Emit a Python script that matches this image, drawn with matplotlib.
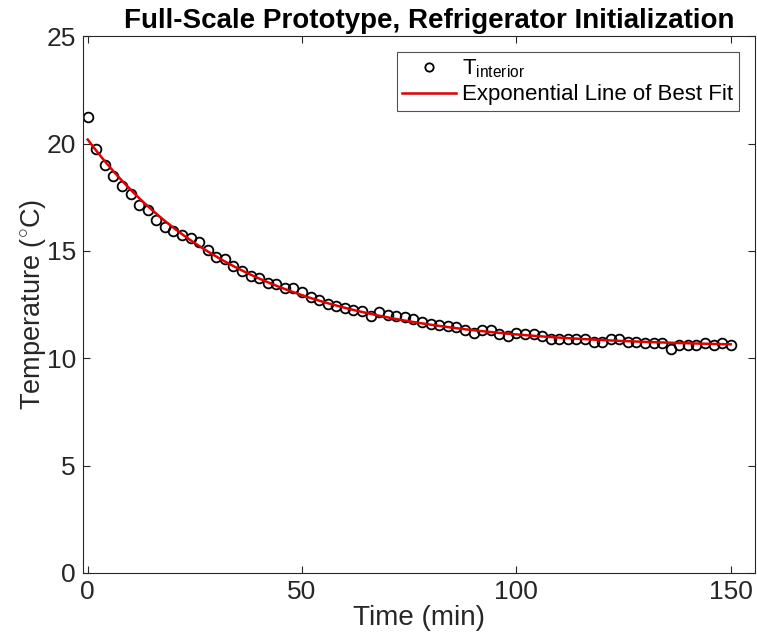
import numpy as np
import matplotlib
matplotlib.use('Agg')
import matplotlib.pyplot as plt

plt.rcParams['font.family'] = ['Liberation Sans', 'DejaVu Sans']
plt.rcParams['mathtext.fontset'] = 'custom'
plt.rcParams['mathtext.rm'] = 'Liberation Sans'
plt.rcParams['mathtext.it'] = 'Liberation Sans:italic'

# -------------------------------
# Data
# -------------------------------
time_min = np.arange(0, 151, 2)
t_interior = [
    21.24, 19.77, 18.98, 18.47, 18.03, 17.63, 17.13, 16.92, 16.44, 16.11,
    15.91, 15.74, 15.62, 15.40, 15.03, 14.72, 14.62, 14.31, 14.07, 13.85,
    13.74, 13.51, 13.48, 13.26, 13.26, 13.10, 12.85, 12.72, 12.53, 12.42,
    12.34, 12.23, 12.22, 11.99, 12.17, 12.01, 11.99, 11.91, 11.84, 11.71,
    11.61, 11.55, 11.52, 11.44, 11.34, 11.19, 11.34, 11.34, 11.15, 11.03,
    11.19, 11.15, 11.15, 11.03, 10.89, 10.89, 10.89, 10.89, 10.89, 10.76,
    10.76, 10.92, 10.92, 10.76, 10.76, 10.71, 10.71, 10.71, 10.44, 10.60,
    10.60, 10.60, 10.71, 10.60, 10.71, 10.60,
]

# -------------------------------
# Exponential fit  T = c + a*exp(-t/tau)
# -------------------------------
y = np.array(t_interior)
best = None
for tau in np.linspace(5, 150, 2901):
    A = np.column_stack([np.exp(-time_min / tau), np.ones_like(time_min, dtype=float)])
    coef, res, _, _ = np.linalg.lstsq(A, y, rcond=None)
    err = np.sum((A @ coef - y) ** 2)
    if best is None or err < best[0]:
        best = (err, tau, coef)
_, tau, (a, c) = best
t_fit = np.linspace(0, 150, 300)
T_fit = c + a * np.exp(-t_fit / tau)

# -------------------------------
# Plot
# -------------------------------
fig = plt.figure(figsize=(7.57, 6.33), dpi=100)
ax = fig.add_axes([0.1096, 0.0948, 0.8874, 0.848])

ax.plot(time_min, t_interior, 'o', mfc='none', mec='black', ms=7, mew=1.3,
        linestyle='none', label=r'T$_{\mathrm{interior}}$')
ax.plot(t_fit, T_fit, color='#e00000', lw=1.8, label='Exponential Line of Best Fit')

ax.set_xlim(-1.1, 155.6)
ax.set_ylim(0, 25)
ax.set_xticks([0, 50, 100, 150])
ax.set_yticks([0, 5, 10, 15, 20, 25])
ax.tick_params(direction='in', top=True, right=True, length=5, width=0.8,
               labelsize=19, colors='#262626', labelcolor='#262626', pad=5)
for s in ax.spines.values():
    s.set_color('#262626')
    s.set_linewidth(0.8)

ax.set_xlabel('Time (min)', fontsize=20, color='#262626', labelpad=1)
ax.set_ylabel(r'Temperature ($^{\circ}$C)', fontsize=19.5, color='#262626', labelpad=-1)
ax.set_title('Full-Scale Prototype, Refrigerator Initialization',
             fontsize=20, fontweight='bold', pad=6, x=0.516)

leg = ax.legend(loc='upper right', fontsize=16, frameon=True, fancybox=False,
                edgecolor='#262626', borderaxespad=0.7, handlelength=2.4,
                handletextpad=0.3, borderpad=0.25, labelspacing=0.2)
leg.get_frame().set_linewidth(0.8)
leg.legend_handles[0].set_markersize(6)

fig.savefig('out.png', dpi=100)
